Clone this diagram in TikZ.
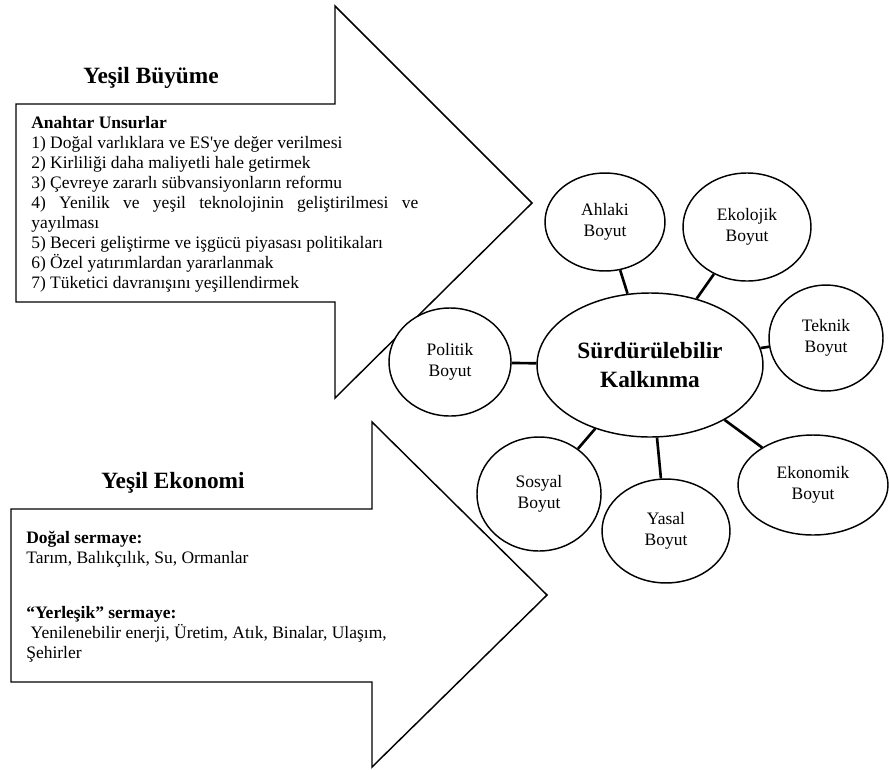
\documentclass[tikz,border=0pt]{standalone}
\usepackage{fontspec}
\setmainfont{Liberation Serif}[Ligatures=TeXOff]
\usepackage{tikz}
\usetikzlibrary{positioning}
\usetikzlibrary{calc}
\usetikzlibrary{shapes.geometric}

\setlength{\parindent}{0pt}

\begin{document}
\begin{tikzpicture}[x=0.686pt, y=-0.686pt,
    bubble/.style={draw, ellipse, fill=white, line width=1pt, inner sep=0pt, align=center, font=\fontsize{12}{14.4}\selectfont},
    link/.style={line width=1.8pt},
    bigarrow/.style={draw, line width=1pt, line join=miter},
    heading/.style={font=\fontsize{16}{19}\selectfont\bfseries},
    boxtext/.style={anchor=north west, inner sep=0pt, font=\fontsize{12}{13.7}\selectfont}]

    \useasboundingbox (0,0) rectangle (889,769);

    \draw[bigarrow] (16,104) -- (335,104) -- (335,6) -- (532,203) -- (335,398) -- (335,302) -- (16,302) -- cycle;
    \draw[bigarrow] (11,509) -- (372,509) -- (372,422) -- (547,595) -- (372,767) -- (372,682) -- (11,682) -- cycle;

    \node[heading] (yb) at (151,78) {Yeşil Büyüme};
    \node[boxtext, text width=265.5pt, align=justify] (au) at (31,116) {%
        \textbf{Anahtar Unsurlar}\par
        1) Doğal varlıklara ve ES'ye değer verilmesi\par
        2) Kirliliği daha maliyetli hale getirmek\par
        3) Çevreye zararlı sübvansiyonların reformu\par
        4) Yenilik ve yeşil teknolojinin geliştirilmesi ve\linebreak yayılması\par
        5) Beceri geliştirme ve işgücü piyasası politikaları\par
        6) Özel yatırımlardan yararlanmak\par
        7) Tüketici davranışını yeşillendirmek};

    \node[heading] (ye) at (173,483) {Yeşil Ekonomi};
    \node[boxtext, align=left] (ds) at (26,531) {%
        \textbf{Doğal sermaye:}\\
        Tarım, Balıkçılık, Su, Ormanlar\\[24pt]
        \textbf{“Yerleşik” sermaye:}\\
        \hspace*{3pt}Yenilenebilir enerji, Üretim, Atık, Binalar, Ulaşım,\\
        Şehirler};

    \node[bubble, minimum width=155pt, minimum height=98.8pt, font=\fontsize{16}{19.5}\selectfont\bfseries] (kal) at (650,365) {Sürdürülebilir\\Kalkınma};

    \node[bubble, minimum width=82.3pt, minimum height=67.2pt] (ahl) at (605,222) {Ahlaki\\Boyut};
    \node[bubble, minimum width=87.8pt, minimum height=74.1pt] (ekl) at (747,227) {Ekolojik\\Boyut};
    \node[bubble, minimum width=78.2pt, minimum height=72.7pt] (tek) at (826,338) {Teknik\\Boyut};
    \node[bubble, minimum width=83.7pt, minimum height=74.1pt] (pol) at (450,362) {Politik\\Boyut};
    \node[bubble, minimum width=85.1pt, minimum height=78.2pt] (sos) at (539,494) {Sosyal\\Boyut};
    \node[bubble, minimum width=87.8pt, minimum height=71.3pt] (yas) at (666,531) {Yasal\\Boyut};
    \node[bubble, minimum width=102.9pt, minimum height=68.6pt] (ekn) at (813,485) {Ekonomik\\Boyut};

    \draw[link] (ahl) -- (kal);
    \draw[link] (ekl) -- (kal);
    \draw[link] (tek) -- (kal);
    \draw[link] (pol) -- (kal);
    \draw[link] (sos) -- (kal);
    \draw[link] (yas) -- (kal);
    \draw[link] (ekn) -- (kal);

\end{tikzpicture}
\end{document}
